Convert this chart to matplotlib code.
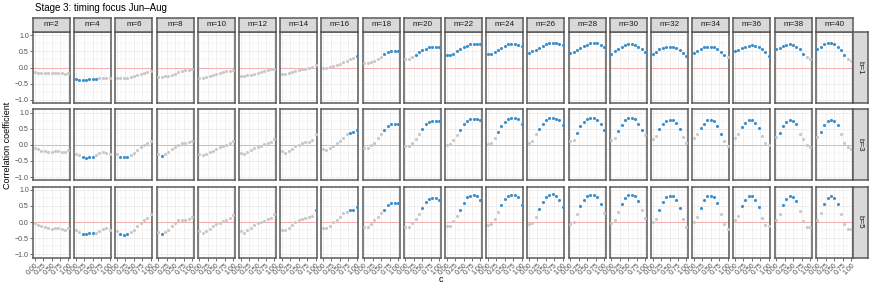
import matplotlib

matplotlib.use("Agg")
import matplotlib.pyplot as plt
import numpy as np

plt.rcParams["font.family"] = ["Liberation Sans", "DejaVu Sans"]

# data ----------------------------------------------------------------------
m_values = [2, 4, 6, 8, 10, 12, 14, 16, 18, 20, 22, 24, 26, 28, 30, 32, 34, 36, 38, 40]
b_values = [1, 3, 5]
c_values = [0.0, 0.1, 0.2, 0.3, 0.4, 0.5, 0.6, 0.7, 0.8, 0.9, 1.0]

r_b1 = [
    [-0.15, -0.16, -0.16, -0.17, -0.17, -0.18, -0.18, -0.18, -0.18, -0.19, -0.17],
    [-0.37, -0.38, -0.38, -0.38, -0.37, -0.37, -0.36, -0.34, -0.33, -0.32, -0.32],
    [-0.34, -0.34, -0.33, -0.31, -0.29, -0.27, -0.24, -0.21, -0.18, -0.15, -0.11],
    [-0.30, -0.29, -0.27, -0.25, -0.22, -0.19, -0.15, -0.12, -0.09, -0.07, -0.06],
    [-0.32, -0.31, -0.29, -0.27, -0.24, -0.21, -0.18, -0.15, -0.12, -0.10, -0.08],
    [-0.27, -0.26, -0.24, -0.22, -0.19, -0.16, -0.13, -0.11, -0.08, -0.06, -0.05],
    [-0.19, -0.21, -0.18, -0.15, -0.11, -0.08, -0.06, -0.04, -0.02, 0.01, 0.08],
    [0.00, -0.01, 0.01, 0.04, 0.08, 0.12, 0.16, 0.21, 0.26, 0.30, 0.37],
    [0.15, 0.14, 0.16, 0.20, 0.25, 0.31, 0.42, 0.47, 0.50, 0.51, 0.52],
    [0.25, 0.27, 0.33, 0.40, 0.48, 0.53, 0.58, 0.62, 0.64, 0.64, 0.64],
    [0.38, 0.38, 0.43, 0.50, 0.57, 0.63, 0.68, 0.72, 0.73, 0.73, 0.73],
    [0.41, 0.43, 0.47, 0.54, 0.61, 0.67, 0.72, 0.74, 0.74, 0.71, 0.67],
    [0.46, 0.50, 0.55, 0.61, 0.67, 0.72, 0.75, 0.77, 0.76, 0.74, 0.70],
    [0.46, 0.49, 0.54, 0.60, 0.66, 0.71, 0.75, 0.76, 0.75, 0.71, 0.64],
    [0.43, 0.50, 0.57, 0.64, 0.69, 0.72, 0.72, 0.69, 0.63, 0.56, 0.48],
    [0.43, 0.48, 0.56, 0.61, 0.64, 0.65, 0.64, 0.61, 0.54, 0.45, 0.36],
    [0.45, 0.51, 0.57, 0.62, 0.64, 0.64, 0.62, 0.57, 0.48, 0.40, 0.31],
    [0.51, 0.54, 0.59, 0.64, 0.67, 0.69, 0.67, 0.63, 0.57, 0.48, 0.36],
    [0.56, 0.59, 0.66, 0.71, 0.73, 0.71, 0.64, 0.56, 0.43, 0.31, 0.25],
    [0.58, 0.64, 0.72, 0.76, 0.76, 0.72, 0.64, 0.54, 0.38, 0.25, 0.20],
]
r_b3 = [
    [-0.10, -0.14, -0.18, -0.20, -0.22, -0.21, -0.19, -0.19, -0.21, -0.23, -0.17],
    [-0.27, -0.33, -0.38, -0.40, -0.38, -0.37, -0.31, -0.26, -0.23, -0.24, -0.30],
    [-0.28, -0.38, -0.39, -0.37, -0.32, -0.25, -0.17, -0.08, 0.00, 0.06, 0.13],
    [-0.28, -0.36, -0.29, -0.21, -0.13, -0.06, 0.00, 0.05, 0.07, 0.10, 0.13],
    [-0.30, -0.33, -0.30, -0.23, -0.18, -0.13, -0.07, -0.05, -0.02, 0.05, 0.13],
    [-0.25, -0.30, -0.23, -0.17, -0.11, -0.07, -0.03, 0.02, 0.05, 0.10, 0.17],
    [-0.20, -0.25, -0.20, -0.13, -0.05, 0.00, 0.05, 0.08, 0.10, 0.15, 0.32],
    [-0.13, -0.15, -0.10, -0.03, 0.05, 0.13, 0.22, 0.32, 0.38, 0.40, 0.47],
    [-0.10, -0.10, -0.02, 0.07, 0.22, 0.32, 0.45, 0.58, 0.63, 0.63, 0.63],
    [-0.05, -0.05, 0.05, 0.18, 0.33, 0.48, 0.64, 0.71, 0.74, 0.74, 0.73],
    [0.00, 0.02, 0.15, 0.30, 0.47, 0.63, 0.74, 0.79, 0.81, 0.81, 0.76],
    [0.03, 0.07, 0.22, 0.40, 0.58, 0.71, 0.79, 0.83, 0.83, 0.79, 0.66],
    [0.07, 0.13, 0.32, 0.48, 0.64, 0.76, 0.83, 0.84, 0.81, 0.76, 0.61],
    [0.12, 0.15, 0.38, 0.58, 0.71, 0.79, 0.83, 0.83, 0.78, 0.66, 0.47],
    [0.15, 0.22, 0.42, 0.62, 0.76, 0.82, 0.83, 0.79, 0.66, 0.47, 0.30],
    [0.17, 0.27, 0.48, 0.64, 0.74, 0.78, 0.76, 0.68, 0.48, 0.25, 0.05],
    [0.20, 0.32, 0.53, 0.66, 0.76, 0.76, 0.74, 0.59, 0.35, 0.12, -0.03],
    [0.20, 0.33, 0.56, 0.69, 0.76, 0.76, 0.68, 0.51, 0.27, 0.07, 0.00],
    [0.23, 0.38, 0.59, 0.71, 0.76, 0.74, 0.64, 0.33, 0.17, 0.00, -0.07],
    [0.25, 0.40, 0.61, 0.74, 0.78, 0.74, 0.61, 0.35, 0.07, -0.07, -0.13],
]
r_b5 = [
    [-0.03, -0.08, -0.12, -0.15, -0.19, -0.22, -0.18, -0.18, -0.20, -0.23, -0.17],
    [-0.23, -0.31, -0.36, -0.38, -0.35, -0.35, -0.33, -0.28, -0.20, -0.18, -0.25],
    [-0.28, -0.36, -0.40, -0.36, -0.30, -0.23, -0.13, -0.03, 0.07, 0.12, 0.24],
    [-0.30, -0.36, -0.30, -0.23, -0.13, -0.03, 0.05, 0.07, 0.07, 0.10, 0.17],
    [-0.28, -0.33, -0.28, -0.21, -0.13, -0.06, -0.02, 0.02, 0.05, 0.12, 0.22],
    [-0.28, -0.33, -0.25, -0.18, -0.08, -0.03, 0.00, 0.04, 0.09, 0.14, 0.24],
    [-0.23, -0.26, -0.18, -0.08, -0.01, 0.05, 0.09, 0.12, 0.15, 0.20, 0.37],
    [-0.18, -0.18, -0.11, -0.01, 0.07, 0.17, 0.27, 0.32, 0.37, 0.39, 0.47],
    [-0.16, -0.16, -0.06, 0.07, 0.17, 0.28, 0.39, 0.54, 0.59, 0.60, 0.59],
    [-0.15, -0.15, -0.03, 0.10, 0.25, 0.44, 0.62, 0.72, 0.75, 0.76, 0.70],
    [-0.13, -0.11, 0.02, 0.20, 0.39, 0.59, 0.77, 0.82, 0.84, 0.82, 0.70],
    [-0.10, -0.06, 0.09, 0.30, 0.52, 0.72, 0.82, 0.85, 0.85, 0.77, 0.52],
    [-0.06, -0.03, 0.17, 0.40, 0.62, 0.79, 0.84, 0.86, 0.82, 0.69, 0.47],
    [-0.06, 0.00, 0.25, 0.49, 0.69, 0.82, 0.85, 0.85, 0.77, 0.57, 0.27],
    [-0.03, 0.05, 0.30, 0.56, 0.75, 0.84, 0.85, 0.80, 0.64, 0.38, 0.12],
    [0.00, 0.10, 0.39, 0.62, 0.79, 0.82, 0.81, 0.70, 0.44, 0.09, -0.15],
    [0.00, 0.15, 0.45, 0.67, 0.80, 0.81, 0.77, 0.59, 0.25, -0.05, -0.20],
    [0.05, 0.20, 0.50, 0.70, 0.80, 0.80, 0.70, 0.47, 0.12, -0.10, -0.11],
    [0.05, 0.24, 0.54, 0.72, 0.80, 0.77, 0.64, 0.34, 0.02, -0.15, -0.15],
    [0.07, 0.27, 0.57, 0.75, 0.80, 0.75, 0.57, 0.24, -0.06, -0.21, -0.21],
]

# 1 = significant (blue), 0 = not significant (grey)
sig_b1 = [
    "00000000000", "11111110000", "00000000000", "00000000000", "00000000000",
    "00000000000", "00000000000", "00000000001", "00000011111", "00011111111",
    "11111111111", "11111111111", "11111111111", "11111111111", "11111111111",
    "11111111111", "11111111110", "11111111111", "11111111100", "11111111100",
]
sig_b3 = [
    "00000000000", "00111100000", "01110000000", "01000000000", "00000000000",
    "00000000000", "00000000000", "00000000111", "00000011111", "00000111111",
    "00001111111", "00011111111", "00011111111", "00111111111", "00111111110",
    "00111111100", "00111111100", "00111111000", "01111110000", "01111110000",
]
sig_b5 = [
    "00000000000", "00111100000", "01110000000", "01000000000", "00000000000",
    "00000000000", "00000000001", "00000000111", "00000011111", "00000111111",
    "00001111111", "00001111111", "00011111111", "00011111110", "00011111100",
    "00111111100", "00111111000", "00111111000", "00111110000", "00111110000",
]

rows = [(r_b1, sig_b1), (r_b3, sig_b3), (r_b5, sig_b5)]

# layout (pixels) -----------------------------------------------------------
W, H = 872, 291
panel_left, panel_w, panel_step = 33, 37, 41.2
row_tops, panel_h = [32, 109.3, 186.6], 71
strip_h, rstrip_w = 14.5, 15

BLUE = "#3d8fcc"
GREY = "#c8c8c8"
BORDER = "#5a5a5a"
STRIP = "#d9d9d9"


def px_axes(fig, x, y, w, h):
    return fig.add_axes([x / W, 1 - (y + h) / H, w / W, h / H])


def style_box(ax):
    ax.set_xticks([])
    ax.set_yticks([])
    ax.set_facecolor(STRIP)
    for sp in ax.spines.values():
        sp.set_color(BORDER)
        sp.set_linewidth(1.1)


fig = plt.figure(figsize=(W / 100, H / 100), dpi=100)

for ri, (r_rows, sig_rows) in enumerate(rows):
    top = row_tops[ri]
    for ci, m in enumerate(m_values):
        left = panel_left + ci * panel_step
        ax = px_axes(fig, left, top, panel_w, panel_h)
        ax.set_xlim(-0.05, 1.05)
        ax.set_ylim(-1.1, 1.1)
        ax.set_xticks([0, 0.25, 0.5, 0.75, 1.0])
        ax.set_xticks(np.arange(0.125, 1.0, 0.25), minor=True)
        ax.set_yticks([-1.0, -0.5, 0.0, 0.5, 1.0])
        ax.set_yticks([-0.75, -0.25, 0.25, 0.75], minor=True)
        ax.grid(True, which="major", color="#ebebeb", linewidth=0.6)
        ax.grid(True, which="minor", color="#f2f2f2", linewidth=0.35)
        ax.set_axisbelow(True)
        for sp in ax.spines.values():
            sp.set_color(BORDER)
            sp.set_linewidth(1.1)

        ax.axhline(0, color="#f5a3a3", linewidth=0.6, zorder=1)

        vals = np.array(r_rows[ci])
        flags = np.array([ch == "1" for ch in sig_rows[ci]])
        cols = np.array(c_values)
        ax.scatter(cols[~flags], vals[~flags], s=5, color=GREY, linewidths=0, zorder=3)
        ax.scatter(cols[flags], vals[flags], s=5, color=BLUE, linewidths=0, zorder=3)

        ax.tick_params(which="minor", length=0)
        ax.tick_params(which="major", length=2, width=0.5, color="#333333",
                       labelsize=5, labelcolor="#4d4d4d", pad=1)
        if ci == 0:
            ax.set_yticklabels(["\u22121.0", "\u22120.5", "0.0", "0.5", "1.0"])
        else:
            ax.tick_params(axis="y", length=0, labelleft=False)
        if ri == 2:
            ax.set_xticklabels(["0.00", "0.25", "0.50", "0.75", "1.00"],
                               rotation=45, ha="right", va="top",
                               rotation_mode="anchor")
        else:
            ax.tick_params(axis="x", length=0, labelbottom=False)

        if ri == 0:
            sax = px_axes(fig, left, top - strip_h, panel_w, strip_h)
            style_box(sax)
            sax.text(0.5, 0.5, f"m={m}", ha="center", va="center",
                     fontsize=5.8, color="#1a1a1a", transform=sax.transAxes)

    rx = panel_left + 19 * panel_step + panel_w
    rax = px_axes(fig, rx, top, rstrip_w, panel_h)
    style_box(rax)
    rax.text(0.5, 0.5, f"b={b_values[ri]}", ha="center", va="center",
             rotation=270, fontsize=5.8, color="#1a1a1a", transform=rax.transAxes)

fig.text(35 / W, 1 - 8 / H, "Stage 3: timing focus Jun\u2013Aug", ha="left",
         va="center", fontsize=7)
fig.text(8 / W, 1 - 145 / H, "Correlation coefficient", rotation=90,
         ha="center", va="center", fontsize=6.5)
fig.text(441 / W, 1 - 280 / H, "c", ha="center", va="center", fontsize=6.5)

fig.savefig("out.png", dpi=100)
